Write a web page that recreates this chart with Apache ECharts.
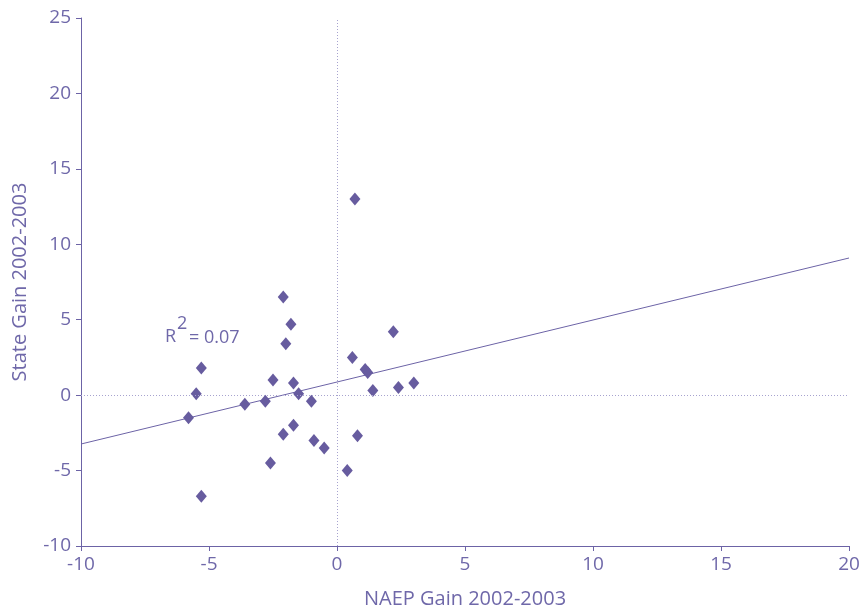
<!DOCTYPE html>
<html><head><meta charset="utf-8">
<script src="https://cdn.jsdelivr.net/npm/echarts@6/dist/echarts.min.js"></script>
<style>html,body{margin:0;padding:0;background:#fff}#c{width:864px;height:612px}</style>
</head><body><div id="c"></div>
<script>
const naepGain = [-2.1,-1.8,-2.0,-5.3,-2.5,-1.7,-5.5,-1.5,-3.6,-2.8,-1.0,-5.8,-1.7,-2.1,-0.9,-0.5,-2.6,-5.3,0.4,0.7,2.2,0.6,1.1,1.2,1.4,2.4,3.0,0.8];
const stateGain = [6.5,4.7,3.4,1.8,1.0,0.8,0.1,0.1,-0.6,-0.4,-0.4,-1.5,-2.0,-2.6,-3.0,-3.5,-4.5,-6.7,-5.0,13.0,4.2,2.5,1.7,1.5,0.3,0.5,0.8,-2.7];
const trendX = [-10, 20];
const trendY = [-3.24, 9.09];
const xTicks = [-10, -5, 0, 5, 10, 15, 20];
const yTicks = [-10, -5, 0, 5, 10, 15, 20, 25];
const r2Label = '0.07';

const purple = '#6c63a6';
const textC = '#6f68a9';
const font = 'Open Sans';

const chart = echarts.init(document.getElementById('c'));
chart.setOption({
  animation: false,
  grid: {left: 81, right: 15, top: 18, bottom: 66, containLabel: false, outerBoundsMode: 'none'},
  xAxis: {
    type: 'value', min: xTicks[0], max: xTicks[xTicks.length-1], interval: 5,
    name: 'NAEP Gain 2002-2003', nameLocation: 'middle', nameGap: 43,
    nameTextStyle: {color: textC, fontSize: 20, fontFamily: font},
    axisLine: {show: true, onZero: false, lineStyle: {color: purple, width: 1}},
    axisTick: {show: true, length: 5, lineStyle: {color: purple}},
    axisLabel: {color: textC, fontSize: 19, fontFamily: font, margin: 9},
    splitLine: {show: false}
  },
  yAxis: {
    type: 'value', min: yTicks[0], max: yTicks[yTicks.length-1], interval: 5,
    name: 'State Gain 2002-2003', nameLocation: 'middle', nameGap: 51,
    nameTextStyle: {color: textC, fontSize: 20, fontFamily: font},
    axisLine: {show: true, onZero: false, lineStyle: {color: purple, width: 1}},
    axisTick: {show: true, length: 5, lineStyle: {color: purple}},
    axisLabel: {color: textC, fontSize: 19, fontFamily: font, margin: 10},
    splitLine: {show: false}
  },
  series: [
    {
      type: 'line', data: trendX.map((x, i) => [x, trendY[i]]),
      symbol: 'none', lineStyle: {color: purple, width: 1}, silent: true, z: 1,
      markLine: {
        silent: true, symbol: 'none', label: {show: false},
        lineStyle: {color: '#a7a3cf', type: [1, 2], width: 1},
        data: [{xAxis: 0}, {yAxis: 0}]
      }
    },
    {
      type: 'scatter', data: naepGain.map((x, i) => [x, stateGain[i]]),
      symbol: 'diamond', symbolSize: [11, 13],
      itemStyle: {color: '#675c9f', opacity: 1}, z: 3
    }
  ],
  graphic: [
    {type: 'text', left: 165, top: 328, style: {text: 'R', fontSize: 18, fontFamily: font, fill: textC}},
    {type: 'text', left: 177, top: 315, style: {text: '2', fontSize: 18, fontFamily: font, fill: textC}},
    {type: 'text', left: 189, top: 329, style: {text: '= ' + r2Label, fontSize: 18, fontFamily: font, fill: textC}}
  ]
});
</script></body></html>
